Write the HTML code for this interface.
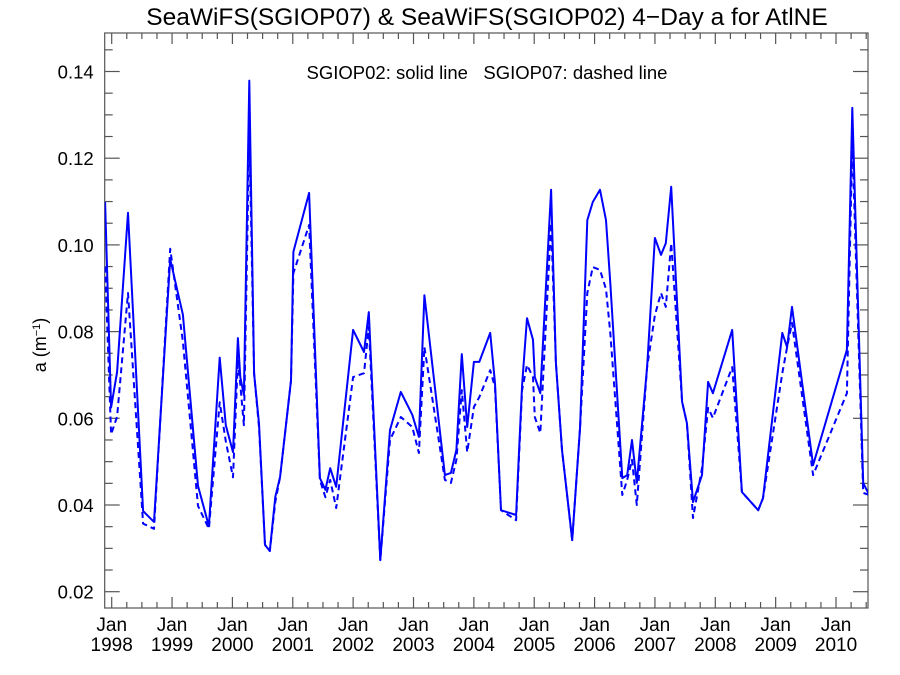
<!DOCTYPE html>
<html><head><meta charset="utf-8">
<style>
html,body{margin:0;padding:0;background:#fff;}
svg{display:block;font-family:"Liberation Sans",sans-serif;}
</style></head>
<body>
<svg id="chart" width="900" height="675" viewBox="0 0 900 675">
<text x="487" y="25" font-size="24.5" text-anchor="middle">SeaWiFS(SGIOP07) &amp; SeaWiFS(SGIOP02) 4−Day a for AtlNE</text>
<text x="487" y="79" font-size="18.5" text-anchor="middle" style="white-space:pre" xml:space="preserve">SGIOP02: solid line   SGIOP07: dashed line</text>
<text transform="translate(46,345) rotate(-90)" font-size="18" text-anchor="middle">a (m<tspan dy="-6" font-size="11">−1</tspan><tspan dy="6">)</tspan></text>
<g id="axes"></g>
<defs><clipPath id="clip"><rect x="104.7" y="33" width="763.3" height="575"/></clipPath></defs>
<g id="series" clip-path="url(#clip)"></g>
</svg>
<script>
const dates=[1997.89,1997.99,1998.09,1998.27,1998.52,1998.70,1998.97,1999.18,1999.43,1999.61,1999.79,1999.89,2000.01,2000.09,2000.13,2000.19,2000.28,2000.36,2000.44,2000.54,2000.62,2000.71,2000.79,2000.97,2001.01,2001.27,2001.45,2001.54,2001.62,2001.72,2002.00,2002.18,2002.26,2002.45,2002.61,2002.79,2002.98,2003.09,2003.18,2003.52,2003.62,2003.71,2003.80,2003.89,2004.00,2004.09,2004.27,2004.35,2004.45,2004.70,2004.80,2004.88,2004.98,2005.01,2005.10,2005.28,2005.36,2005.46,2005.63,2005.76,2005.88,2005.97,2006.09,2006.19,2006.26,2006.46,2006.54,2006.62,2006.70,2006.87,2007.00,2007.10,2007.18,2007.27,2007.45,2007.53,2007.63,2007.78,2007.88,2007.96,2008.28,2008.44,2008.71,2008.79,2009.11,2009.19,2009.27,2009.62,2010.18,2010.27,2010.45,2010.55];
const sgiop02=[0.1099,0.0625,0.0707,0.1074,0.0386,0.0361,0.0967,0.0839,0.0444,0.0351,0.0740,0.0584,0.0522,0.0785,0.0695,0.0654,0.1379,0.0703,0.0588,0.0308,0.0294,0.0419,0.0465,0.0687,0.0984,0.1120,0.0462,0.0435,0.0485,0.0442,0.0804,0.0753,0.0845,0.0273,0.0573,0.0661,0.0608,0.0557,0.0884,0.0469,0.0474,0.0527,0.0748,0.0580,0.0730,0.0730,0.0797,0.0681,0.0388,0.0377,0.0677,0.0831,0.0781,0.0695,0.0658,0.1127,0.0728,0.0527,0.0319,0.0580,0.1057,0.1099,0.1127,0.1057,0.0912,0.0462,0.0469,0.0550,0.0451,0.0718,0.1016,0.0977,0.1004,0.1134,0.0638,0.0589,0.0407,0.0469,0.0684,0.0658,0.0804,0.0430,0.0388,0.0416,0.0797,0.0764,0.0857,0.0492,0.0758,0.1316,0.0451,0.0423];
const sgiop07=[0.0950,0.0563,0.0604,0.0889,0.0357,0.0345,0.0991,0.0777,0.0398,0.0345,0.0637,0.0547,0.0464,0.0736,0.0678,0.0584,0.1263,0.0703,0.0580,0.0308,0.0294,0.0407,0.0465,0.0687,0.0935,0.1046,0.0458,0.0418,0.0458,0.0393,0.0695,0.0704,0.0811,0.0273,0.0550,0.0603,0.0580,0.0520,0.0764,0.0458,0.0451,0.0504,0.0665,0.0522,0.0626,0.0649,0.0711,0.0672,0.0388,0.0365,0.0665,0.0723,0.0695,0.0603,0.0566,0.1050,0.0728,0.0527,0.0319,0.0580,0.0889,0.0949,0.0942,0.0898,0.0797,0.0423,0.0458,0.0504,0.0400,0.0718,0.0838,0.0889,0.0857,0.1004,0.0638,0.0589,0.0370,0.0485,0.0624,0.0601,0.0718,0.0430,0.0388,0.0416,0.0704,0.0764,0.0820,0.0469,0.0658,0.1242,0.0428,0.0423];
const yTicks=[0.02,0.04,0.06,0.08,0.10,0.12,0.14];
const yTickLabels=["0.02","0.04","0.06","0.08","0.10","0.12","0.14"];
const xYears=[1998,1999,2000,2001,2002,2003,2004,2005,2006,2007,2008,2009,2010];

const L=104.7,R=868,T=33,B=608;
const xS=t=>111.7+(t-1998)*60.36;
const yS=v=>591.7-(v-0.02)*4335;
const NS="http://www.w3.org/2000/svg";
const axes=document.getElementById('axes');
function mk(tag,attrs,parent){const e=document.createElementNS(NS,tag);for(const k in attrs)e.setAttribute(k,attrs[k]);parent.appendChild(e);return e;}

const frame=mk('rect',{x:L,y:T,width:R-L,height:B-T,fill:'none',stroke:'#555','stroke-width':1.2},axes);



for(let v=0.02;v<=0.1451;v+=0.005){
  const major=Math.abs(v/0.02-Math.round(v/0.02))<1e-6;
  const len=major?15:8;const y=yS(v);
  const t1=mk('line',{x1:L,x2:L+len,y1:y,y2:y,stroke:'#555','stroke-width':1.2},axes);
  
  
  const t2=mk('line',{x1:R,x2:R-len,y1:y,y2:y,stroke:'#555','stroke-width':1.2},axes);
  
  
}
yTicks.forEach((v,i)=>{
  const tx=mk('text',{x:L-11,y:yS(v)+7,'font-size':18.5,'text-anchor':'end'},axes);
  tx.textContent=yTickLabels[i];
  
  
});
for(let t=1997.75;t<=2010.6;t+=0.25){
  const x=xS(t);if(x<L||x>R)continue;
  const major=Math.abs(t-Math.round(t))<1e-6;
  const len=major?11:6;
  const a=mk('line',{x1:x,x2:x,y1:B,y2:B-len,stroke:'#555','stroke-width':1.2},axes);
  
  
  const b=mk('line',{x1:x,x2:x,y1:T,y2:T+len,stroke:'#555','stroke-width':1.2},axes);
  
  
}
xYears.forEach(yr=>{
  const x=xS(yr);
  const a=mk('text',{x:x,y:631,'font-size':19,'text-anchor':'middle'},axes);
  a.textContent='Jan';
  
  
  const b=mk('text',{x:x,y:651,'font-size':19,'text-anchor':'middle'},axes);
  b.textContent=String(yr);
  
  
});
const ser=document.getElementById('series');
function path(vals){return vals.map((v,i)=>(i?'L':'M')+xS(dates[i]).toFixed(1)+' '+yS(v).toFixed(1)).join(' ');}
const p7=mk('path',{d:path(sgiop07),fill:'none',stroke:'#0000ff','stroke-width':2,'stroke-dasharray':'6 4','stroke-linejoin':'round'},ser);


const p2=mk('path',{d:path(sgiop02),fill:'none',stroke:'#0000ff','stroke-width':2,'stroke-linejoin':'round'},ser);


</script>
</body></html>
